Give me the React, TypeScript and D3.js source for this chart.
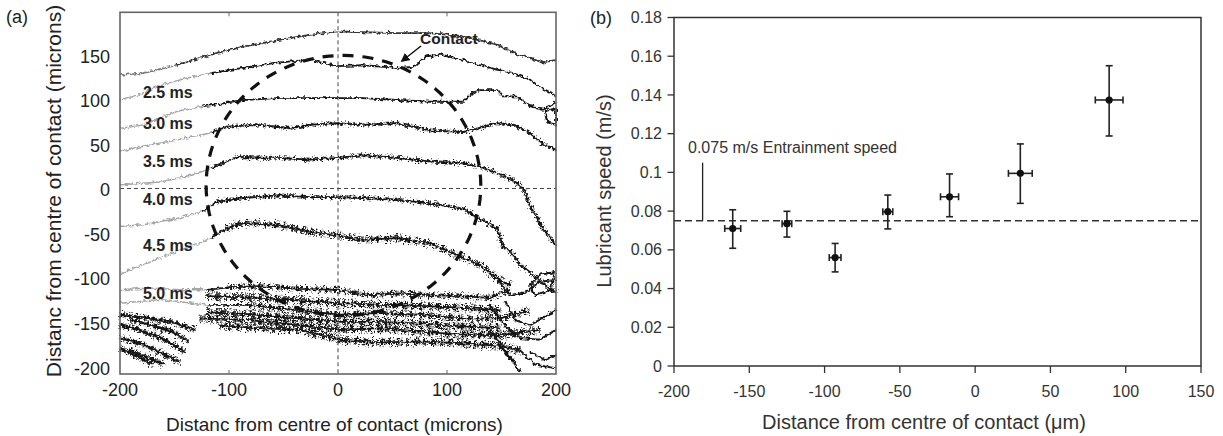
import React from "react";
import * as d3 from "d3";

// ---------- Panel (a) data: contour traces (microns) ----------
type P = [number, number];
const contour25: P[] = [[-200,129],[-179,131],[-148,140],[-117,152],[-87,161],[-56,168],[-26,174],[-1,178],[23,177],[54,176],[84,176],[112,173],[130,168],[146,163],[161,154],[176,148],[188,143],[200,146]];
const contour30: P[] = [[-200,101],[-182,107],[-163,118],[-133,127],[-117,131],[-87,137],[-56,143],[-26,146],[-1,139],[23,140],[54,137],[69,138],[81,150],[94,152],[115,146],[130,140],[146,135],[161,131],[176,124],[185,116],[195,109],[200,105]];
const contour35: P[] = [[-200,69],[-179,73],[-148,88],[-124,94],[-117,95],[-87,101],[-56,103],[-26,103],[-1,103],[23,103],[54,101],[84,99],[115,99],[124,109],[130,112],[146,112],[151,105],[164,105],[176,94],[188,90],[200,98]];
const contour40: P[] = [[-200,43],[-179,49],[-148,56],[-117,64],[-102,71],[-72,73],[-41,69],[-26,73],[-1,75],[23,73],[54,75],[84,67],[115,65],[146,75],[161,73],[176,64],[188,52],[200,45]];
const contour45: P[] = [[-200,6],[-163,9],[-133,17],[-117,24],[-93,37],[-56,36],[-26,34],[-1,36],[23,39],[54,36],[84,32],[115,30],[130,26],[146,19],[161,11],[170,2],[176,-17],[188,-43],[200,-62]];
const contour50: P[] = [[-200,-41],[-179,-39],[-148,-32],[-124,-24],[-111,-13],[-87,-9],[-56,-6],[-26,-8],[-1,-8],[23,-9],[54,-11],[84,-15],[115,-21],[130,-32],[146,-43],[151,-62],[161,-73],[167,-84],[176,-92],[190,-107],[200,-115]];
const contour55: P[] = [[-200,-94],[-179,-84],[-148,-69],[-124,-58],[-117,-54],[-102,-43],[-87,-37],[-56,-39],[-26,-47],[-1,-51],[23,-56],[54,-54],[84,-60],[109,-73],[130,-84],[146,-99],[158,-107]];
const band1: P[] = [[-200,-112],[-173,-110],[-145,-112],[-120,-112],[-99,-109],[-72,-108],[-35,-111],[-1,-112],[29,-118],[57,-116],[84,-118],[112,-119],[139,-121],[158,-112]];
const band2: P[] = [[-200,-127],[-163,-123],[-120,-129],[-81,-129],[-35,-135],[2,-140],[39,-138],[75,-140],[112,-144],[149,-144],[176,-135]];
const band3: P[] = [[-127,-144],[-81,-146],[-35,-152],[2,-157],[39,-155],[75,-159],[112,-162],[149,-163],[185,-157]];
const band4: P[] = [[-108,-152],[-72,-155],[-35,-157],[2,-168],[39,-171],[75,-170],[112,-172],[149,-175],[167,-180]];
const bandMid1: P[] = [[-120,-119],[-72,-121],[-35,-124],[2,-127],[39,-129],[75,-130],[112,-132],[149,-135]];
const bandMid2: P[] = [[-120,-137],[-72,-140],[-35,-144],[2,-148],[39,-148],[75,-150],[112,-153],[149,-155]];
const cornerLines: P[][] = [
  [[-200,-140],[-173,-144],[-150,-149],[-131,-157]],
  [[-200,-152],[-182,-157],[-159,-168],[-140,-182]],
  [[-200,-166],[-177,-174],[-159,-185],[-145,-193]],
  [[-192,-180],[-173,-189],[-159,-196]],
  [[-200,-178],[-185,-186],[-170,-196]],
  [[-190,-146],[-170,-152],[-150,-160],[-138,-170]],
];
const rightLines: P[][] = [
  [[146,-101],[158,-118],[172,-115],[185,-103],[200,-101]],
  [[139,-129],[153,-152],[167,-166],[185,-168],[200,-157]],
  [[149,-174],[160,-191],[167,-204]],
  [[176,-182],[190,-191],[200,-185]],
  [[176,-107],[185,-95],[199,-92],[195,-112],[181,-118],[176,-107]],
  [[190,88],[200,92],[200,73],[192,76],[190,88]],
  [[153,-124],[163,-146],[176,-152],[200,-135]],
  [[167,-180],[181,-196],[200,-200]],
  [[139,-157],[149,-174],[158,-191]],
];
const contours = [contour25, contour30, contour35, contour40, contour45, contour50, contour55, band1, band2];
const grayUntil = [-120, -117, -124, -113, -104, -117, -113, -120, -120];
const speckleWidth = [0, 0, 0, 3, 4, 4, 7, 6, 7];
const timeLabels = ["2.5 ms", "3.0 ms", "3.5 ms", "4.0 ms", "4.5 ms", "5.0 ms"];
const timeLabelY = [110, 75, 32, -11, -62, -116];
const timeLabelX = -179;
const contactCentre: P = [5, 5];
const contactRadius: P = [126, 146];
const aXTicks = [-200, -100, 0, 100, 200];
const aYTicks = [150, 100, 50, 0, -50, -100, -150, -200];

// ---------- Panel (b) data ----------
const distance = [-161, -125, -93, -58, -17, 30, 89];
const distanceErr = [5.3, 3.2, 3.9, 3.3, 6, 7.9, 9.2];
const speed = [0.071, 0.0735, 0.056, 0.0797, 0.0874, 0.0995, 0.1374];
const speedLow = [0.0608, 0.0666, 0.0486, 0.0708, 0.0771, 0.084, 0.1188];
const speedHigh = [0.0807, 0.0799, 0.0633, 0.0883, 0.0992, 0.1147, 0.1551];
const entrainment = 0.075;
const bXTicks = [-200, -150, -100, -50, 0, 50, 100, 150];
const bYTicks = [0, 0.02, 0.04, 0.06, 0.08, 0.1, 0.12, 0.14, 0.16, 0.18];

const FONT = "'Liberation Sans', Arial, sans-serif";

export default function App() {
  const ax = d3.scaleLinear().domain([-200, 200]).range([120, 556]);
  const ay = d3.scaleLinear().domain([-206.5, 199.4]).range([374, 12.3]);
  const aLine = d3.line<P>().x((d) => ax(d[0])).y((d) => ay(d[1])).curve(d3.curveLinear);

  const bx = d3.scaleLinear().domain([-200, 150]).range([674, 1201]);
  const by = d3.scaleLinear().domain([0, 0.18]).range([366, 17.5]);

  const dark = "#151515";
  const gray = "#a6a6a6";

  const linePaths: React.ReactNode[] = [];
  const specklePaths: React.ReactNode[] = [];
  contours.forEach((pts, i) => {
    const split = grayUntil[i];
    const g = pts.filter((p) => p[0] <= split);
    const dIdx = pts.findIndex((p) => p[0] > split);
    const dpts = dIdx > 0 ? pts.slice(dIdx - 1) : pts;
    linePaths.push(
      <path key={`g${i}`} d={aLine(g) || ""} fill="none" stroke={i === 0 ? "#777" : gray} strokeWidth={1.5} />
    );
    linePaths.push(
      <path key={`d${i}`} d={aLine(dpts) || ""} fill="none" stroke={i === 0 ? "#333" : dark} strokeWidth={1.8} />
    );
    if (speckleWidth[i] > 0) {
      specklePaths.push(
        <path key={`s${i}`} d={aLine(dpts.slice(1)) || ""} fill="none" stroke={dark} strokeWidth={speckleWidth[i]}
          strokeDasharray="2 2.5 1 3.5 2.5 2 1.5 4" />
      );
    }
  });
  [band3, band4, bandMid1, bandMid2].forEach((pts, i) => {
    linePaths.push(<path key={`b${i}`} d={aLine(pts) || ""} fill="none" stroke={dark} strokeWidth={1.8} />);
    specklePaths.push(<path key={`bs${i}`} d={aLine(pts) || ""} fill="none" stroke={dark} strokeWidth={8}
      strokeDasharray="2 2 1 3 2.5 1.5 1.5 3.5" />);
  });
  cornerLines.forEach((pts, i) => {
    linePaths.push(<path key={`c${i}`} d={aLine(pts) || ""} fill="none" stroke={dark} strokeWidth={2.4} />);
    specklePaths.push(<path key={`cs${i}`} d={aLine(pts) || ""} fill="none" stroke={dark} strokeWidth={6}
      strokeDasharray="2 2 1 3" />);
  });
  rightLines.forEach((pts, i) => {
    linePaths.push(<path key={`r${i}`} d={aLine(pts) || ""} fill="none" stroke={dark} strokeWidth={2} />);
  });

  const ellipse: P[] = d3.range(0, 361, 3).map((a) => {
    const t = (a * Math.PI) / 180;
    return [contactCentre[0] + contactRadius[0] * Math.cos(t), contactCentre[1] + contactRadius[1] * Math.sin(t)];
  });

  return (
    <svg width={1223} height={436} style={{ position: "absolute", left: 0, top: 0, background: "#fff" }}
      fontFamily={FONT}>
      <defs>
        <filter id="rough" x="-5%" y="-5%" width="110%" height="110%">
          <feTurbulence type="fractalNoise" baseFrequency="0.3" numOctaves={2} seed={4} />
          <feDisplacementMap in="SourceGraphic" scale={5} xChannelSelector="R" yChannelSelector="G" />
        </filter>
        <filter id="scatter" x="-5%" y="-5%" width="110%" height="110%">
          <feTurbulence type="fractalNoise" baseFrequency="0.6" numOctaves={1} seed={9} />
          <feDisplacementMap in="SourceGraphic" scale={9} xChannelSelector="R" yChannelSelector="G" />
        </filter>
        <marker id="arrow" viewBox="0 0 10 10" refX="8" refY="5" markerWidth="6" markerHeight="6" orient="auto">
          <path d="M0,0 L10,5 L0,10 z" fill="#111" />
        </marker>
      </defs>

      {/* ================= Panel (a) ================= */}
      <text x={6} y={23} fontSize={18} fill="#222">(a)</text>
      <g filter="url(#scatter)">{specklePaths}</g>
      <g filter="url(#rough)">{linePaths}</g>

      <line x1={ax(0)} x2={ax(0)} y1={ay(199.4)} y2={ay(-206.5)} stroke="#444" strokeWidth={1} strokeDasharray="4 3" />
      <line x1={ax(-200)} x2={ax(200)} y1={ay(0) - 1.5} y2={ay(0) - 1.5} stroke="#444" strokeWidth={1} strokeDasharray="4 3" />

      <path d={aLine(ellipse) || ""} fill="none" stroke="#111" strokeWidth={3.2} strokeDasharray="11 9" />

      {timeLabels.map((t, i) => (
        <text key={t} x={ax(timeLabelX)} y={ay(timeLabelY[i])} dy="0.35em" fontSize={16} fontWeight="bold" fill="#222">{t}</text>
      ))}
      <text x={420} y={38.5} dy="0.35em" fontSize={15.5} fontWeight="bold" fill="#222">Contact</text>
      <line x1={421} y1={46} x2={402} y2={61} stroke="#111" strokeWidth={1.5} markerEnd="url(#arrow)" />

      <rect x={ax(-200)} y={ay(199.4)} width={ax(200) - ax(-200)} height={ay(-206.5) - ay(199.4)}
        fill="none" stroke="#666" strokeWidth={1.6} />
      {[-100, 100].map((v) => (
        <g key={v}>
          <line x1={ax(v)} x2={ax(v)} y1={ay(199.4)} y2={ay(199.4) + 4} stroke="#666" />
          <line x1={ax(v)} x2={ax(v)} y1={ay(-206.5)} y2={ay(-206.5) - 4} stroke="#666" />
        </g>
      ))}
      {aYTicks.map((v) => (
        <text key={v} x={110} y={ay(v)} dy="0.35em" textAnchor="end" fontSize={18} fill="#222">{v}</text>
      ))}
      {aXTicks.map((v) => (
        <text key={v} x={ax(v)} y={390} dy="0.35em" textAnchor="middle" fontSize={18} fill="#222">{v}</text>
      ))}
      <text x={334.5} y={424} dy="0.35em" textAnchor="middle" fontSize={19} fill="#222">Distanc from centre of contact (microns)</text>
      <text transform="translate(54,191) rotate(-90)" dy="0.35em" textAnchor="middle" fontSize={21} fill="#222">Distanc from centre of contact (microns)</text>

      {/* ================= Panel (b) ================= */}
      <text x={590} y={24} fontSize={18} fill="#222">(b)</text>
      <rect x={bx(-200)} y={by(0.18)} width={bx(150) - bx(-200)} height={by(0) - by(0.18)} fill="none" stroke="#333" strokeWidth={1.5} />
      {bYTicks.map((v) => (
        <g key={v}>
          <line x1={bx(-200) - 6.5} x2={bx(-200)} y1={by(v)} y2={by(v)} stroke="#333" strokeWidth={1.3} />
          <text x={662} y={by(v)} dy="0.35em" textAnchor="end" fontSize={16} fill="#333">{String(v)}</text>
        </g>
      ))}
      {bXTicks.map((v) => (
        <g key={v}>
          <line x1={bx(v)} x2={bx(v)} y1={by(0)} y2={by(0) + 7} stroke="#333" strokeWidth={1.3} />
          <text x={bx(v)} y={391.5} dy="0.35em" textAnchor="middle" fontSize={16} fill="#333">{v}</text>
        </g>
      ))}
      <line x1={bx(-200)} x2={bx(150)} y1={by(entrainment)} y2={by(entrainment)} stroke="#333" strokeWidth={1.5} strokeDasharray="7 4" />
      <line x1={bx(-181)} x2={bx(-181)} y1={by(entrainment)} y2={by(0.105)} stroke="#222" strokeWidth={1.3} />
      <text x={688} y={147} dy="0.35em" fontSize={16} fill="#333">0.075 m/s Entrainment speed</text>

      {distance.map((d, i) => {
        const cx = bx(d), cy = by(speed[i]);
        const x0 = bx(d - distanceErr[i]), x1 = bx(d + distanceErr[i]);
        const yl = by(speedLow[i]), yh = by(speedHigh[i]);
        return (
          <g key={i} stroke="#222" strokeWidth={1.6}>
            <line x1={cx} x2={cx} y1={yl} y2={yh} />
            <line x1={cx - 3.5} x2={cx + 3.5} y1={yl} y2={yl} />
            <line x1={cx - 3.5} x2={cx + 3.5} y1={yh} y2={yh} />
            <line x1={x0} x2={x1} y1={cy} y2={cy} />
            <line x1={x0} x2={x0} y1={cy - 3.5} y2={cy + 3.5} />
            <line x1={x1} x2={x1} y1={cy - 3.5} y2={cy + 3.5} />
            <circle cx={cx} cy={cy} r={3.6} fill="#111" stroke="none" />
          </g>
        );
      })}

      <text x={924} y={421.5} dy="0.35em" textAnchor="middle" fontSize={20} fill="#333">Distance from centre of contact (μm)</text>
      <text transform="translate(604,191) rotate(-90)" dy="0.35em" textAnchor="middle" fontSize={20} fill="#333">Lubricant speed (m/s)</text>
    </svg>
  );
}
